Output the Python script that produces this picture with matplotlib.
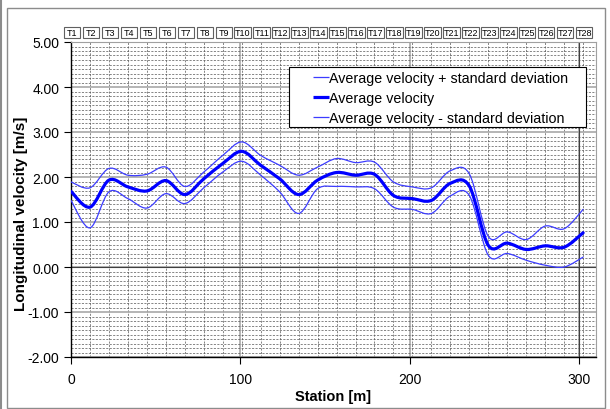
import numpy as np
import matplotlib
matplotlib.use('Agg')
import matplotlib.pyplot as plt
from matplotlib.path import Path
from matplotlib.patches import PathPatch, Rectangle
from matplotlib.lines import Line2D
from matplotlib.ticker import MultipleLocator, FixedLocator
from matplotlib.legend_handler import HandlerBase
import matplotlib.transforms as mtrans

plt.rcParams['font.family'] = ['Liberation Sans', 'DejaVu Sans']

transects = ['T%d' % i for i in range(1, 29)]
stations = [0.0, 11.2, 22.4, 33.6, 44.8, 56.0, 67.2, 78.4, 89.6, 100.8,
            112.0, 123.2, 134.4, 145.6, 156.8, 168.0, 179.2, 190.4, 201.6, 212.8,
            224.0, 235.2, 246.4, 257.6, 268.8, 280.0, 291.2, 302.4]
avg = [1.68, 1.33, 1.93, 1.78, 1.69, 1.92, 1.61, 1.96, 2.30, 2.57,
       2.26, 1.96, 1.61, 1.93, 2.10, 2.04, 2.06, 1.59, 1.52, 1.48,
       1.86, 1.80, 0.48, 0.53, 0.39, 0.47, 0.44, 0.76]
upper = [1.89, 1.76, 2.19, 2.04, 2.06, 2.22, 1.79, 2.11, 2.48, 2.78,
         2.48, 2.26, 2.04, 2.22, 2.41, 2.32, 2.33, 1.89, 1.78, 1.76,
         2.14, 2.07, 0.68, 0.78, 0.61, 0.91, 0.85, 1.28]
lower = [1.48, 0.87, 1.67, 1.52, 1.31, 1.63, 1.41, 1.76, 2.11, 2.35,
         2.04, 1.67, 1.19, 1.74, 1.79, 1.78, 1.74, 1.33, 1.28, 1.19,
         1.58, 1.59, 0.26, 0.30, 0.15, 0.04, 0.00, 0.22]
labels = ['Average velocity + standard deviation', 'Average velocity',
          'Average velocity - standard deviation']


def smooth_path(x, y):
    P = np.column_stack([np.asarray(x, float), np.asarray(y, float)])
    E = np.vstack([P[0], P, P[-1]])
    verts = [P[0]]
    codes = [Path.MOVETO]
    for i in range(len(P) - 1):
        p0, p1, p2, p3 = E[i], E[i + 1], E[i + 2], E[i + 3]
        c1 = p1 + (p2 - p0) / 6.0
        c2 = p2 - (p3 - p1) / 6.0
        verts += [c1, c2, p2]
        codes += [Path.CURVE4] * 3
    return Path(verts, codes)


class ShortLineHandler(HandlerBase):
    def create_artists(self, legend, orig_handle, xdescent, ydescent, width, height,
                       fontsize, trans):
        y = height / 2.0 - ydescent
        x0 = -xdescent + width * 0.56
        x1 = -xdescent + width
        ln = Line2D([x0, x1], [y, y], color=orig_handle.get_color(),
                    lw=orig_handle.get_linewidth(), solid_capstyle='butt')
        ln.set_transform(trans)
        return [ln]


W, H = 610, 410
fig = plt.figure(figsize=(6.1, 4.1), dpi=100)
L, R, T, B = 71, 596, 43, 358
ax = fig.add_axes([L / W, 1 - B / H, (R - L) / W, (B - T) / H])


def ax_x(px):
    return (px - L) / (R - L)


def ax_y(py):
    return (B - py) / (B - T)


# outer frame
fig.patches.append(Rectangle((7 / W, 1 / H), 598 / W, 400 / H, transform=fig.transFigure,
                             fill=False, ec='#8c8c8c', lw=1.0))
fig.add_artist(Line2D([1 / W, 1 / W], [0, 1], transform=fig.transFigure, color='#8c8c8c', lw=1.5))

ax.set_xlim(0, 310)
ax.set_ylim(-2, 5)
ax.xaxis.set_major_locator(MultipleLocator(100))
ax.xaxis.set_minor_locator(FixedLocator(stations))
ax.yaxis.set_major_locator(MultipleLocator(1))
ax.yaxis.set_minor_locator(MultipleLocator(0.1))
ax.yaxis.set_major_formatter(matplotlib.ticker.FormatStrFormatter('%.2f'))
ax.tick_params(which='major', direction='out', length=5, width=0.8, labelsize=10, colors='black')
ax.tick_params(which='minor', length=0)
ax.tick_params(axis='x', pad=6)
ax.set_axisbelow(True)
ax.grid(which='minor', color='#555555', lw=0.5, linestyle=(0, (3, 2)))
ax.grid(which='major', color='#a8a8a8', lw=1.2, linestyle='-')
ax.axhline(0, color='#404040', lw=0.8, zorder=1)
ax.axvline(300, color='#404040', lw=0.8, zorder=1)

for sp in ['top', 'right']:
    ax.spines[sp].set_color('#a0a0a0')
for sp in ['left', 'bottom']:
    ax.spines[sp].set_color('black')
    ax.spines[sp].set_linewidth(1.0)

styles = [dict(ec='#3c3cff', lw=0.9), dict(ec='#0000ff', lw=2.3), dict(ec='#3c3cff', lw=0.9)]
handles = []
for ys, st, lab in zip([upper, avg, lower], styles, labels):
    ax.add_patch(PathPatch(smooth_path(stations, ys), fill=False, capstyle='round',
                           joinstyle='round', zorder=3, **st))
    handles.append(Line2D([], [], color=st['ec'], lw=st['lw']))

# legend frame drawn separately for exact padding
ax.add_patch(Rectangle((ax_x(289), ax_y(128)), ax_x(586) - ax_x(289), ax_y(68) - ax_y(128),
                       transform=ax.transAxes, fc='white', ec='black', lw=0.8, zorder=4.5))
leg = ax.legend(handles, labels, loc='upper left', bbox_to_anchor=(ax_x(292), ax_y(72.3)),
                fontsize=10.3, frameon=False,
                handlelength=2.6, handletextpad=0.0, labelspacing=0.40, borderpad=0.0,
                borderaxespad=0, handler_map={Line2D: ShortLineHandler()})
leg.set_zorder(5)

ax.set_xlabel('Station [m]', fontsize=10.5, fontweight='bold')
ax.set_ylabel('Longitudinal velocity [m/s]', fontsize=11, fontweight='bold')
ax.xaxis.set_label_coords(0.5, -(390 - B) / (B - T))
ax.yaxis.set_label_coords(-(L - 28) / (R - L), (B - 214) / (B - T))

# transect label boxes
tr = mtrans.blended_transform_factory(ax.transData, ax.transAxes)
bw = 16.5 / ((R - L) / 310.0)
bh = 11.0 / (B - T)
yc = 1 + (T - 33.5) / (B - T)
for s, name in zip(stations, transects):
    ax.add_patch(Rectangle((s + 0.6 - bw / 2, yc - bh / 2), bw, bh, transform=tr, clip_on=False,
                           fill=True, fc='white', ec='#606060', lw=0.8, zorder=6))
    ax.text(s + 0.6, yc, name, transform=tr, ha='center', va='center', fontsize=6.5,
            clip_on=False, zorder=7)

fig.savefig('out.png', dpi=100)
